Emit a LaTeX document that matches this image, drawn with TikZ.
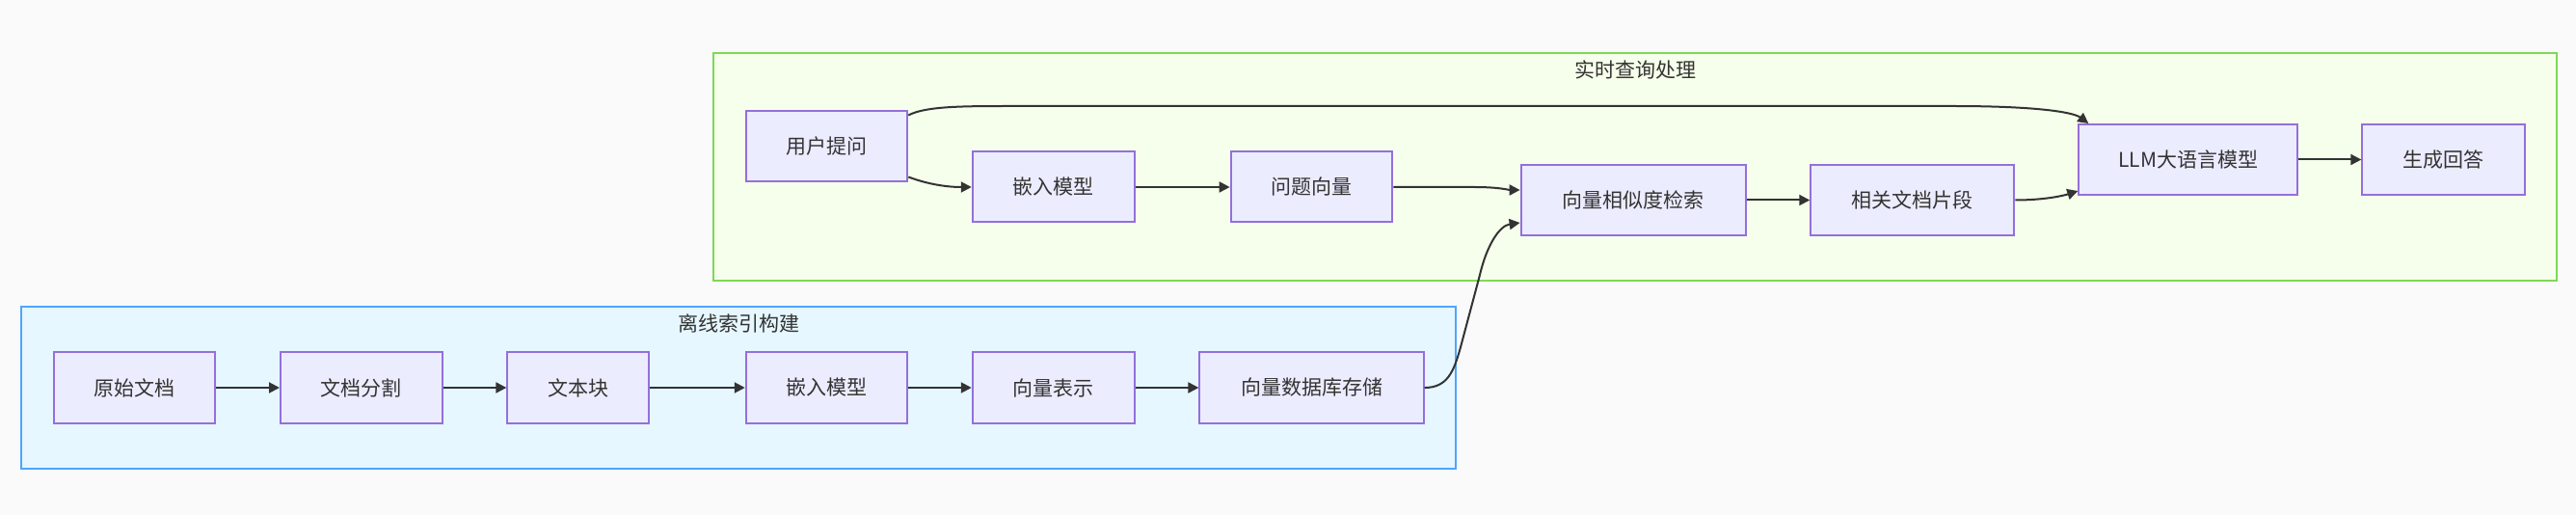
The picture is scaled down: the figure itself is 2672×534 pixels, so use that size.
\documentclass[tikz,border=0pt]{standalone}
\usepackage{fontspec}
\setmainfont{Noto Sans CJK SC}
\usetikzlibrary{arrows.meta,calc}
\definecolor{bgc}{HTML}{FAFAFA}
\definecolor{nodefill}{HTML}{ECECFF}
\definecolor{nodeline}{HTML}{9370DB}
\definecolor{greenfill}{HTML}{F6FFEB}
\definecolor{greenline}{HTML}{7ED957}
\definecolor{bluefill}{HTML}{E6F7FF}
\definecolor{blueline}{HTML}{4DA6FF}
\definecolor{edgec}{HTML}{333333}
\definecolor{textc}{HTML}{333333}
\tikzset{
  box/.style={draw=nodeline, fill=nodefill, line width=2pt, minimum height=73pt, inner sep=0pt, text=textc, font=\fontsize{21}{25}\selectfont},
  cluster/.style={line width=2pt},
  ctitle/.style={text=textc, font=\fontsize{21}{25}\selectfont, inner sep=0pt},
  edge/.style={draw=edgec, line width=2pt, -{Triangle[length=11pt,width=11pt]}},
}
\begin{document}
\begin{tikzpicture}[x=1pt,y=-1pt]
\path[fill=bgc] (0,0) rectangle (2672,534);
\useasboundingbox (0,0) rectangle (2672,534);
% clusters
\path[cluster, draw=greenline, fill=greenfill] (740,55) rectangle (2652,291);
\path[cluster, draw=blueline, fill=bluefill] (22,318) rectangle (1510,486);
\node[ctitle] (t1) at (1696,72) {实时查询处理};
\node[ctitle] (t2) at (766,335) {离线索引构建};
% bottom row
\node[box, minimum width=167.6pt] (a1) at (139.5,402) {原始文档};
\node[box, minimum width=167.6pt] (a2) at (374.8,402) {文档分割};
\node[box, minimum width=146.3pt] (a3) at (599.5,402) {文本块};
\node[box, minimum width=167.5pt] (a4) at (857.5,402) {嵌入模型};
\node[box, minimum width=168.3pt] (a5) at (1092.9,402) {向量表示};
\node[box, minimum width=232.2pt] (a6) at (1360.5,402) {向量数据库存储};
% top row
\node[box, minimum width=167.6pt] (b1) at (857.5,152) {用户提问};
\node[box, minimum width=168.3pt] (b2) at (1092.9,194) {嵌入模型};
\node[box, minimum width=167.7pt] (b3) at (1360.5,194) {问题向量};
\node[box, minimum width=233.4pt] (b4) at (1694.3,207.5) {向量相似度检索};
\node[box, minimum width=211.1pt] (b5) at (1983.8,207.5) {相关文档片段};
\node[box, minimum width=227pt] (b6) at (2269.8,165.5) {LLM大语言模型};
\node[box, minimum width=168.7pt] (b7) at (2534.7,165.5) {生成回答};
% edges bottom
\draw[edge] (a1) -- (a2);
\draw[edge] (a2) -- (a3);
\draw[edge] (a3) -- (a4);
\draw[edge] (a4) -- (a5);
\draw[edge] (a5) -- (a6);
\draw[edge] (a6.east) .. controls +(24,0) and +(-7,25) .. (1515,360) -- (1535,285) .. controls (1542,255) and (1555,234) .. ($(b4.west)+(0,23.5)$);
% edges top
\draw[edge] ($(b1.north east)+(0,5)$) .. controls (960,110) and (1000,110) .. (1050,110) -- (2026,110) .. controls (2110,110) and (2150,116) .. ($(b6.north west)+(11,0)$);
\draw[edge] ($(b1.south east)+(0,-6)$) .. controls (965,192) and (985,194) .. (b2.west);
\draw[edge] (b2) -- (b3);
\draw[edge] (b3.east) -- (1530,194) .. controls (1555,194) and (1565,197) .. ($(b4.west)+(0,-10.5)$);
\draw[edge] (b4) -- (b5);
\draw[edge] (b5.east) .. controls (2120,207.5) and (2140,203) .. ($(b6.south west)+(0,-5)$);
\draw[edge] (b6) -- (b7);
\end{tikzpicture}
\end{document}
